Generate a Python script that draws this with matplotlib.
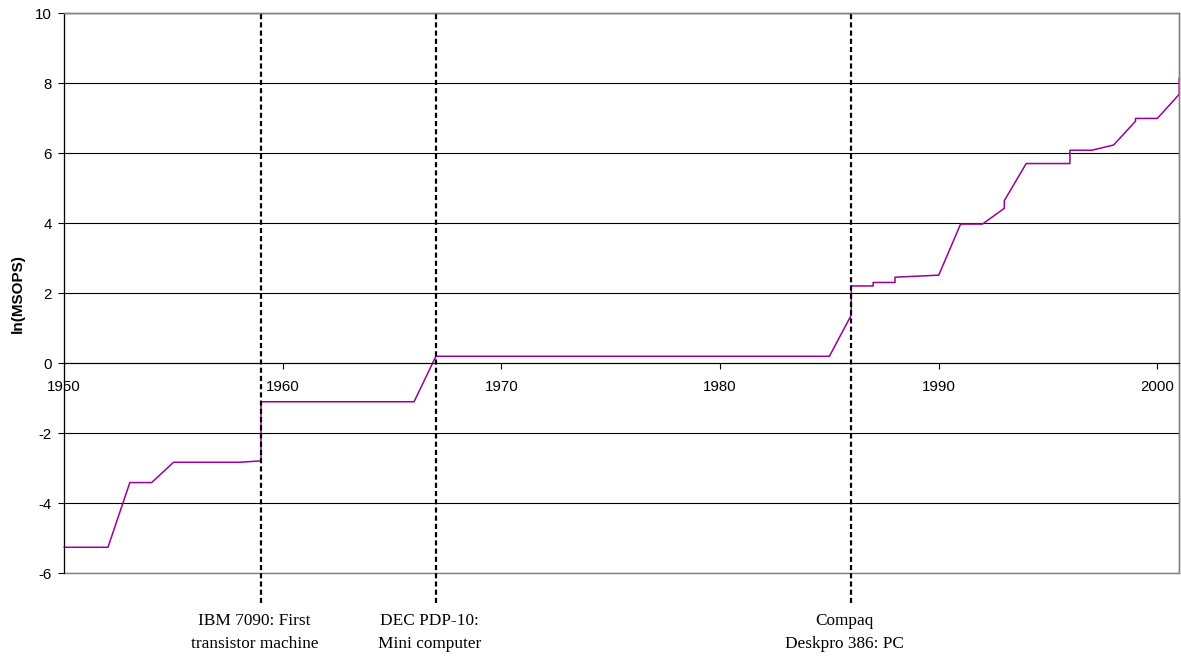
import matplotlib
matplotlib.use("Agg")
import matplotlib.pyplot as plt
from matplotlib.patches import Rectangle

plt.rcParams['axes.unicode_minus'] = False
plt.rcParams['font.family'] = ['Liberation Sans', 'DejaVu Sans']

# ---- data ----
years = [1950, 1951, 1952, 1953, 1954, 1955, 1956, 1957, 1958, 1959, 1959,
         1960, 1961, 1962, 1963, 1964, 1965, 1966,
         1967, 1968, 1969, 1970, 1971, 1972, 1973, 1974, 1975, 1976,
         1977, 1978, 1979, 1980, 1981, 1982, 1983, 1984, 1985,
         1986, 1986, 1987, 1987, 1988, 1988, 1989, 1990, 1991, 1992,
         1993, 1993, 1994, 1995, 1996, 1996, 1997, 1998, 1999, 1999,
         2000, 2001, 2001]
ln_msops = [-5.26, -5.26, -5.26, -3.41, -3.41, -2.83, -2.83, -2.83, -2.83, -2.79, -1.10,
            -1.10, -1.10, -1.10, -1.10, -1.10, -1.10, -1.10,
            0.20, 0.20, 0.20, 0.20, 0.20, 0.20, 0.20, 0.20, 0.20, 0.20,
            0.20, 0.20, 0.20, 0.20, 0.20, 0.20, 0.20, 0.20, 0.20,
            1.38, 2.21, 2.21, 2.31, 2.31, 2.46, 2.49, 2.52, 3.98, 3.98,
            4.43, 4.65, 5.71, 5.71, 5.71, 6.09, 6.09, 6.24, 6.92, 7.00,
            7.00, 7.69, 8.14]

event_years = [1959, 1967, 1986]
event_labels = [("IBM 7090: First", "transistor machine"),
                ("DEC PDP-10:", "Mini computer"),
                ("Compaq", "Deskpro 386: PC")]

x_ticks = [1950, 1960, 1970, 1980, 1990, 2000]
y_ticks = [-6, -4, -2, 0, 2, 4, 6, 8, 10]
y_label = "ln(MSOPS)"

# ---- figure ----
fig = plt.figure(figsize=(11.81, 6.57), dpi=100)
ax = fig.add_axes([0.0544, 0.1276, 0.9441, 0.8519])

ax.plot(years, ln_msops, color='#990099', lw=1.1, zorder=2, clip_on=False)

ax.set_xlim(1950, 2001)
ax.set_ylim(-6, 10)
ax.set_xticks(x_ticks)
ax.set_xticklabels([str(t) for t in x_ticks])
ax.set_yticks(y_ticks)
ax.set_yticklabels([str(t) for t in y_ticks])

ax.yaxis.grid(True, color='black', lw=0.8, zorder=1)
ax.xaxis.grid(False)

ax.spines['bottom'].set_position(('data', 0))
ax.spines['bottom'].set_color('black')
ax.spines['bottom'].set_linewidth(0.8)
ax.spines['left'].set_color('black')
ax.spines['left'].set_linewidth(0.8)
for s in ('top', 'right'):
    ax.spines[s].set_color('#808080')
    ax.spines[s].set_linewidth(1.0)

ax.add_patch(Rectangle((0, 0), 1, 1, transform=ax.transAxes, fill=False,
                       ec='#808080', lw=1.0, zorder=1.9, clip_on=False))

ax.tick_params(axis='x', direction='out', length=4, width=0.8, pad=8,
               labelsize=10.8, colors='black')
ax.tick_params(axis='y', direction='out', length=4, width=0.8, pad=5,
               labelsize=10.8, colors='black')

ax.set_ylabel(y_label, fontsize=11, fontweight='bold')
ax.yaxis.set_label_coords(-0.035, 0.5)

# event markers
for yr, (l1, l2) in zip(event_years, event_labels):
    ax.axvline(yr, ymin=-0.053, ymax=1.0, color='black', lw=1.6,
               ls=(0, (2.3, 1.4)), clip_on=False, zorder=3)
    ax.text(yr - 0.3, -7.477, l1, ha='center', va='baseline',
            family='Liberation Serif', fontsize=12.4, clip_on=False)
    ax.text(yr - 0.3, -8.149, l2, ha='center', va='baseline',
            family='Liberation Serif', fontsize=12.4, clip_on=False)

fig.savefig('out.png', dpi=100)
